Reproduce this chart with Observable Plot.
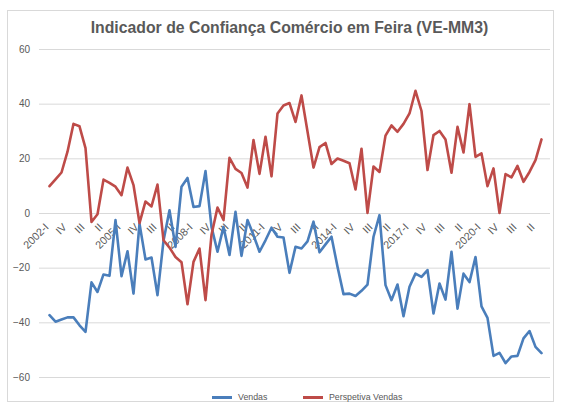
<!DOCTYPE html>
<html>
<head>
<meta charset="utf-8">
<script src="https://cdn.jsdelivr.net/npm/d3@7"></script>
<script src="https://cdn.jsdelivr.net/npm/@observablehq/plot@0.6"></script>
<style>
  html, body { margin: 0; padding: 0; background: #fff; }
  #wrap { position: relative; width: 563px; height: 406px; overflow: hidden; font-family: "Liberation Sans", Arial, sans-serif; }
  #frame { position: absolute; left: 7px; top: 10px; width: 547px; height: 392px; border: 1px solid #d9d9d9; box-sizing: border-box; }
  #title { position: absolute; left: 0; width: 579px; top: 18px; text-align: center; font-weight: bold; font-size: 15.8px; color: #595959; line-height: 20px; }
  #plot { position: absolute; left: 0; top: 40px; }
  #legend { position: absolute; left: 0; top: 391px; width: 563px; height: 14px; font-size: 8.8px; color: #595959; }
  .sw { position: absolute; top: 5px; width: 20px; height: 2.5px; }
  .lt { position: absolute; top: 0px; line-height: 12px; white-space: nowrap; }
</style>
</head>
<body>
<div id="wrap">
  <div id="frame"></div>
  <div id="title">Indicador de Confiança Comércio em Feira (VE-MM3)</div>
  <div id="plot"></div>
  <div id="legend"></div>
</div>
<script>
// Quarterly categories 2002-I .. 2022-III
const years = [2002,2003,2004,2005,2006,2007,2008,2009,2010,2011,2012,2013,2014,2015,2016,2017,2018,2019,2020,2021,2022];
const quarterNames = ["I","II","III","IV"];
const seriesNames = ["Vendas", "Perspetiva Vendas"];
const seriesColors = ["#4a7ebb", "#be4b48"];
const yTicks = [-60, -40, -20, 0, 20, 40, 60];

const vendas = [
  -37.2, -39.6, -38.8, -38.0, -38.0, -40.9, -43.3, -25.2, -28.7, -22.3,
  -22.8, -2.4, -22.9, -13.8, -29.3, -3.7, -16.8, -16.1, -29.9, -10.0,
  1.2, -12.2, 9.8, 13.0, 2.4, 2.7, 15.5, -4.9, -14.0, -4.9,
  -15.2, 0.6, -15.5, -2.4, -7.9, -14.0, -9.8, -5.2, -8.5, -8.8,
  -21.7, -12.2, -12.8, -10.2, -3.0, -14.2, -11.3, -8.5, -19.5, -29.5,
  -29.3, -30.2, -28.3, -26.0, -8.5, -0.6, -26.2, -31.7, -26.0, -37.6,
  -26.8, -22.0, -23.2, -20.7, -36.6, -25.6, -31.5, -14.0, -34.8, -22.0,
  -25.1, -15.9, -34.0, -38.2, -52.1, -51.0, -54.7, -52.3, -52.1, -45.7,
  -43.0, -48.8, -51.1
];
const perspetiva = [
  10.0, 12.5, 15.0, 22.6, 32.8, 31.9, 23.9, -3.1, -0.3, 12.4,
  11.2, 9.8, 6.7, 16.8, 10.4, -3.5, 4.4, 2.6, 10.6, -9.8,
  -12.5, -15.9, -17.8, -33.2, -17.7, -12.8, -31.7, -7.8, 2.2, -2.4,
  20.4, 16.3, 14.8, 9.5, 26.9, 14.5, 28.1, 13.6, 36.6, 39.5,
  40.4, 33.5, 43.2, 30.0, 16.8, 24.3, 25.8, 18.1, 20.1, 19.3,
  18.4, 8.8, 23.7, 0.2, 17.2, 15.2, 28.5, 32.2, 29.9, 32.8,
  36.6, 44.9, 37.5, 15.9, 28.7, 30.2, 27.1, 14.9, 31.7, 22.3,
  40.0, 20.7, 22.0, 10.0, 16.5, 0.2, 14.4, 13.2, 17.4, 11.6,
  15.2, 19.5, 27.1
];

const categories = [];
for (const yr of years) for (const q of quarterNames) categories.push(yr + "-" + q);
categories.length = vendas.length;

const data = categories.map((q, i) => ({q, vendas: vendas[i], persp: perspetiva[i]}));
const tickData = categories
  .map((q, i) => ({q, i}))
  .filter(d => d.i % 3 === 0)
  .map(d => ({q: d.q, label: d.q.endsWith("-I") ? d.q : d.q.split("-")[1]}));

const chart = Plot.plot({
  width: 563,
  height: 345,
  marginLeft: 39,
  marginRight: 13,
  marginTop: 9,
  marginBottom: 8,
  style: {fontFamily: "'Liberation Sans', Arial, sans-serif", background: "transparent"},
  x: {type: "point", domain: categories, padding: 0.5, axis: null},
  y: {domain: [-60, 60], axis: null},
  marks: [
    Plot.gridY(yTicks, {stroke: "#d9d9d9", strokeOpacity: 1, strokeWidth: 1}),
    Plot.axisY(yTicks, {tickSize: 0, tickPadding: 9.5, fontSize: 10, fill: "#595959", label: null}),
    Plot.text(tickData, {x: "q", y: () => 0, text: "label", rotate: -45, textAnchor: "end", dx: -2.5, dy: 12, fontSize: 10.8, fill: "#595959"}),
    Plot.lineY(data, {x: "q", y: "vendas", stroke: seriesColors[0], strokeWidth: 2.6}),
    Plot.lineY(data, {x: "q", y: "persp", stroke: seriesColors[1], strokeWidth: 2.6})
  ]
});
document.getElementById("plot").appendChild(chart);

const legend = document.getElementById("legend");
const legendPos = [[212, 238], [303, 329]];
seriesNames.forEach((n, k) => {
  const sw = document.createElement("div");
  sw.className = "sw";
  sw.style.left = legendPos[k][0] + "px";
  sw.style.background = seriesColors[k];
  const t = document.createElement("div");
  t.className = "lt";
  t.style.left = legendPos[k][1] + "px";
  t.textContent = n;
  legend.appendChild(sw); legend.appendChild(t);
});
</script>
</body>
</html>
